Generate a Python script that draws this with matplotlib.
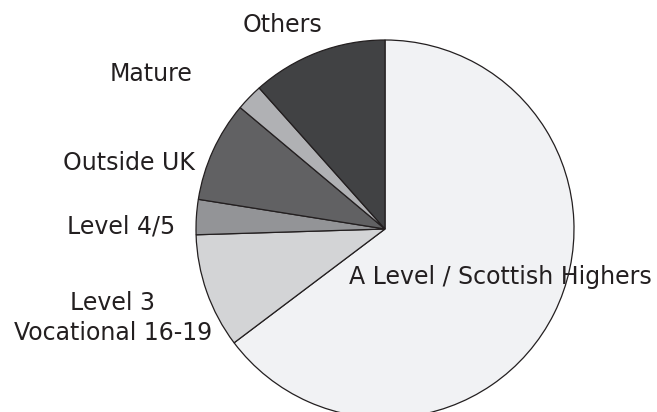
import matplotlib
matplotlib.use("Agg")
import matplotlib.pyplot as plt

categories = ["A Level / Scottish Highers", "Level 3\nVocational 16-19", "Level 4/5",
              "Outside UK", "Mature", "Others"]
values = [64.75, 9.8, 3.0, 8.6, 2.3, 11.6]
colors = ["#f1f2f4", "#d3d4d6", "#939497", "#616163", "#b0b1b4", "#414244"]

# label anchor positions (pixel coords, y from top) and alignment
label_pos = [(349, 277, "left"), (113, 318, "center"), (175, 226, "right"),
             (195, 163, "right"), (193, 74, "right"), (283, 25, "center")]

W, H = 657, 412
fig = plt.figure(figsize=(W / 100, H / 100), dpi=100)
ax = fig.add_axes([0, 0, 1, 1])
ax.pie(values, colors=colors, startangle=90, counterclock=False,
       center=(385, H - 229), radius=189,
       wedgeprops=dict(edgecolor="#231f20", linewidth=0.9))
ax.set_xlim(0, W)
ax.set_ylim(0, H)
ax.set_aspect("equal")
ax.axis("off")

for lab, (x, y, ha) in zip(categories, label_pos):
    ax.text(x, H - y, lab, ha=ha, va="center", fontsize=17,
            color="#231f20", family="DejaVu Sans", linespacing=1.3,
            multialignment="center")

fig.savefig("out.png", dpi=100)
